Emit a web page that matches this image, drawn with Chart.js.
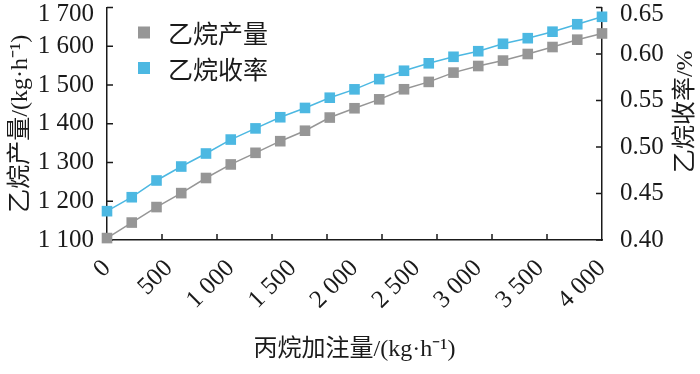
<!DOCTYPE html>
<html>
<head>
<meta charset="utf-8">
<script src="https://cdn.jsdelivr.net/npm/chart.js@4.4.0/dist/chart.umd.min.js"></script>
<style>
  html, body { margin: 0; padding: 0; background: #fff; }
</style>
</head>
<body>
<canvas id="myChart" width="700" height="374"></canvas>
<script>
// values
const propaneFeed = [0, 200, 400, 600, 800, 1000, 1200, 1400, 1600, 1800, 2000,
    2200, 2400, 2600, 2800, 3000, 3200, 3400, 3600, 3800, 4000];
const ethaneOutput = [1105, 1145, 1185, 1221, 1260, 1295, 1325, 1355, 1382, 1416, 1440,
    1463, 1489, 1508, 1532, 1549, 1563, 1580, 1598, 1617, 1633];
const ethaneYield = [0.431, 0.446, 0.464, 0.479, 0.493, 0.508, 0.520, 0.532, 0.542, 0.553, 0.562,
    0.573, 0.582, 0.590, 0.597, 0.603, 0.611, 0.617, 0.624, 0.632, 0.640];
const seriesNames = ['乙烷产量', '乙烷收率'];

const xTicks = [0, 500, 1000, 1500, 2000, 2500, 3000, 3500, 4000];
const xTickLabels = ['0', '500', '1 000', '1 500', '2 000', '2 500', '3 000', '3 500', '4 000'];
const leftTicks = [1100, 1200, 1300, 1400, 1500, 1600, 1700];
const leftTickLabels = ['1 100', '1 200', '1 300', '1 400', '1 500', '1 600', '1 700'];
const rightTicks = [0.40, 0.45, 0.50, 0.55, 0.60, 0.65];
const rightTickLabels = ['0.40', '0.45', '0.50', '0.55', '0.60', '0.65'];
const rightTitle = '乙烷收率/%';

const grey = '#969696';
const blue = '#4cb8e2';
const ink = '#1a1a1a';
const serif = '"Liberation Serif", "Noto Sans CJK SC", serif';
const cjk = '"Noto Sans CJK SC", "Liberation Serif", sans-serif';
const xTickMarks = 9; // the bottom axis has 9 tick intervals, not one per label

function toPoints(ys) {
    return propaneFeed.map((x, i) => ({ x: x, y: ys[i] }));
}

function fixTicks(values) {
    return function (scale) {
        scale.ticks = values.map(v => ({ value: v }));
    };
}

function fixSize(prop, size) {
    return function (scale) {
        scale[prop] = size;
        scale.paddingTop = 0;
        scale.paddingBottom = 0;
        scale.paddingLeft = 0;
        scale.paddingRight = 0;
    };
}

// top label sits a little below its tick, like in the figure
function yLabel(labels) {
    return function (value, index) {
        const text = labels[index];
        return index === labels.length - 1 ? ['', text] : text;
    };
}

// tick marks point into the plot
const innerTicks = {
    id: 'innerTicks',
    beforeDatasetsDraw(chart) {
        const ctx = chart.ctx;
        const x = chart.scales.x, y = chart.scales.y, y1 = chart.scales.y1;
        const len = 6;
        ctx.save();
        ctx.strokeStyle = ink;
        ctx.lineWidth = 1.5;
        ctx.beginPath();
        y.ticks.forEach(t => {
            const p = y.getPixelForValue(t.value);
            ctx.moveTo(y.right, p);
            ctx.lineTo(y.right + len, p);
        });
        y1.ticks.forEach(t => {
            const p = y1.getPixelForValue(t.value);
            ctx.moveTo(y1.left, p);
            ctx.lineTo(y1.left - len, p);
        });
        for (let i = 1; i < xTickMarks; i++) {
            const p = x.getPixelForValue(x.min + i * (x.max - x.min) / xTickMarks);
            ctx.moveTo(p, x.top);
            ctx.lineTo(p, x.top - len);
        }
        ctx.stroke();
        ctx.restore();
    }
};

// legend in the upper left corner, and the right title read bottom to top
const extras = {
    id: 'extras',
    afterDraw(chart) {
        const ctx = chart.ctx;
        const area = chart.chartArea;
        ctx.save();
        ctx.font = '25px ' + cjk;
        ctx.textBaseline = 'middle';
        chart.data.datasets.forEach((ds, i) => {
            const cx = area.left + 37;
            const cy = area.top + 25 + i * 35.5;
            ctx.fillStyle = ds.backgroundColor;
            ctx.fillRect(cx - 6, cy - 6, 12, 12);
            ctx.fillStyle = ink;
            ctx.fillText(ds.label, cx + 24, cy + 1);
        });

        const y1 = chart.scales.y1;
        ctx.translate(y1.right - 14, (area.top + area.bottom) / 2 - 12);
        ctx.rotate(-Math.PI / 2);
        ctx.font = '24px ' + serif;
        ctx.textAlign = 'center';
        ctx.fillText(rightTitle, 0, 0);
        ctx.restore();
    }
};

const data = {
    datasets: [{
        label: seriesNames[0],
        data: toPoints(ethaneOutput),
        yAxisID: 'y',
        borderColor: grey,
        backgroundColor: grey,
        borderWidth: 1.5,
        pointStyle: 'rect',
        pointRadius: 7.5,
        pointBorderWidth: 0,
        tension: 0,
        clip: false
    }, {
        label: seriesNames[1],
        data: toPoints(ethaneYield),
        yAxisID: 'y1',
        borderColor: blue,
        backgroundColor: blue,
        borderWidth: 1.5,
        pointStyle: 'rect',
        pointRadius: 7.5,
        pointBorderWidth: 0,
        tension: 0,
        clip: false
    }]
};

const border = { display: true, color: ink, width: 1.5 };

const config = {
    type: 'line',
    data: data,
    plugins: [innerTicks, extras],
    options: {
        responsive: false,
        animation: false,
        layout: { padding: { top: 5, left: 0, right: 0, bottom: 0 } },
        plugins: {
            legend: { display: false },
            tooltip: { enabled: false }
        },
        scales: {
            x: {
                type: 'linear',
                min: 0,
                max: 4000,
                afterBuildTicks: fixTicks(xTicks),
                afterFit: fixSize('height', 134),
                grid: { display: false },
                border: border,
                ticks: {
                    autoSkip: false,
                    minRotation: 45,
                    maxRotation: 45,
                    padding: 6,
                    color: ink,
                    font: { family: serif, size: 25 },
                    callback: (value, index) => xTickLabels[index]
                },
                title: {
                    display: true,
                    text: '丙烷加注量/(kg·h⁻¹)',
                    color: ink,
                    font: { family: serif, size: 24, lineHeight: 1.2 },
                    padding: { top: 0, bottom: 10 }
                }
            },
            y: {
                position: 'left',
                min: 1100,
                max: 1700,
                afterBuildTicks: fixTicks(leftTicks),
                afterFit: fixSize('width', 107),
                grid: { display: false },
                border: border,
                ticks: {
                    padding: 5,
                    color: ink,
                    font: { family: serif, size: 25, lineHeight: 0.55 },
                    callback: yLabel(leftTickLabels)
                },
                title: {
                    display: true,
                    text: '乙烷产量/(kg·h⁻¹)',
                    color: ink,
                    font: { family: serif, size: 24, lineHeight: 1.2 },
                    padding: { top: 6, bottom: 0 }
                }
            },
            y1: {
                position: 'right',
                min: 0.40,
                max: 0.65,
                afterBuildTicks: fixTicks(rightTicks),
                afterFit: fixSize('width', 98),
                grid: { display: false },
                border: border,
                ticks: {
                    padding: 10,
                    color: ink,
                    font: { family: serif, size: 25, lineHeight: 0.55 },
                    callback: yLabel(rightTickLabels)
                },
                title: { display: false }
            }
        }
    }
};

const myChart = new Chart(document.getElementById('myChart'), config);
</script>
</body>
</html>
